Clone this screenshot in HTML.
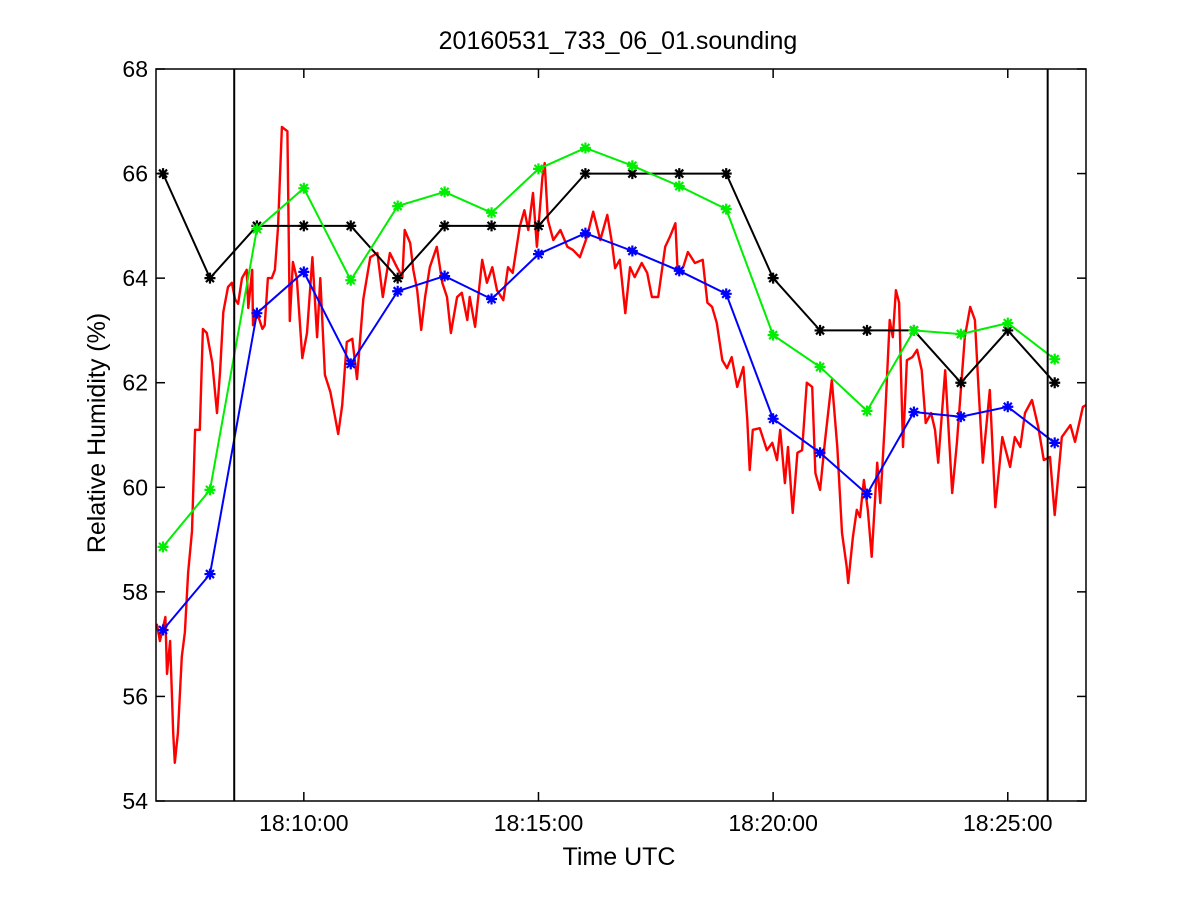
<!DOCTYPE html>
<html><head><meta charset="utf-8"><style>
body{margin:0;background:#fff;}
svg text{font-family:"Liberation Sans",Helvetica,sans-serif;fill:#000;}
</style></head><body>
<svg id="chart" width="1200" height="900" xmlns="http://www.w3.org/2000/svg">
<rect width="1200" height="900" fill="#fff"/>
<g id="plot"></g>
</svg>
<script>
// time in seconds after 18:07:00
const minuteTimes=[0,60,120,180,240,300,360,420,480,540,600,660,720,780,840,900,960,1020,1080,1140];
const blackValues=[66,64,65,65,65,64,65,65,65,66,66,66,66,64,63,63,63,62,63,62];
const greenValues=[58.86,59.95,64.94,65.72,63.96,65.38,65.65,65.25,66.09,66.49,66.15,65.76,65.32,62.91,62.3,61.46,63.0,62.93,63.14,62.45];
const blueValues=[57.27,58.34,63.33,64.12,62.36,63.75,64.04,63.6,64.46,64.86,64.52,64.14,63.7,61.31,60.66,59.87,61.44,61.35,61.54,60.85];
const redTimes=[-8,-4,3,5,9,13,15,19,24,28,32,37,41,47,51,56,63,69,73,77,83,88,92,96,101,107,109,114,115,120,127,130,134,139,143,147,152,159,162,166,171,178,184,191,197,201,207,214,220,224,229,235,242,248,256,265,274,281,290,299,306,309,316,320,325,330,335,341,350,357,363,368,376,382,389,392,399,408,414,421,427,435,441,447,456,462,467,473,478,485,488,492,499,508,517,524,533,542,550,559,568,574,578,584,591,597,603,612,619,625,633,642,648,655,658,665,671,680,690,696,702,708,715,721,727,734,742,747,750,754,763,772,779,785,789,795,799,805,811,817,823,830,834,840,846,855,862,868,874,876,882,887,891,896,901,906,913,917,923,929,933,937,941,946,951,958,964,970,975,982,987,991,1000,1009,1015,1025,1032,1038,1043,1048,1057,1064,1073,1083,1089,1096,1102,1111,1119,1126,1134,1140,1149,1160,1166,1176,1180];
const redValues=[57.39,57.06,57.52,56.43,57.06,55.30,54.73,55.30,56.76,57.23,58.36,59.16,61.10,61.10,63.03,62.95,62.38,61.42,62.22,63.35,63.83,63.91,63.60,63.51,64.00,64.16,63.43,64.16,63.10,63.35,63.03,63.10,64.00,64.00,64.16,64.96,66.89,66.81,63.18,64.31,64.00,62.47,62.95,64.40,62.87,64.00,62.15,61.82,61.34,61.02,61.57,62.78,62.84,62.07,63.60,64.40,64.48,63.64,64.48,64.21,64.02,64.92,64.67,64.16,63.77,63.01,63.64,64.21,64.60,63.91,63.64,62.95,63.64,63.72,63.20,63.64,63.07,64.35,63.91,64.21,63.77,63.58,64.21,64.10,64.98,65.30,64.92,65.63,64.60,65.93,66.20,65.11,64.73,64.92,64.60,64.54,64.40,64.79,65.27,64.73,65.21,64.67,64.19,64.35,63.33,64.21,64.02,64.29,64.10,63.64,63.64,64.60,64.79,65.05,64.10,64.21,64.50,64.29,64.35,63.53,63.45,63.14,62.43,62.28,62.49,61.92,62.30,61.29,60.33,61.10,61.13,60.71,60.85,60.52,61.10,60.08,60.77,59.51,60.66,60.71,62.00,61.92,60.27,59.95,60.85,62.05,60.77,59.13,58.48,58.17,59.05,59.57,59.43,60.14,59.57,58.67,60.47,59.70,61.29,63.20,62.87,63.77,63.53,60.77,62.43,62.49,62.63,62.24,61.23,61.42,61.10,60.47,62.24,59.89,60.85,62.87,63.45,63.20,61.80,60.47,61.86,59.62,60.96,60.39,60.96,60.77,61.42,61.67,61.15,60.52,60.58,59.47,60.96,61.19,60.87,61.54,61.57];
const yTicks=[54,56,58,60,62,64,66,68];
const xTickTimes=[180,480,780,1080];
const xTickLabels=["18:10:00","18:15:00","18:20:00","18:25:00"];
const markerTimes=[91,1131];

const L=156,R=1086,T=69,B=801;
const tMin=-9,tMax=1180,yMin=54,yMax=68;
const xs=t=>L+(t-tMin)/(tMax-tMin)*(R-L);
const ys=v=>B-(v-yMin)/(yMax-yMin)*(B-T);
const NS="http://www.w3.org/2000/svg";
const g=document.getElementById('plot');
function mk(tag,attrs,parent){const e=document.createElementNS(NS,tag);for(const k in attrs)e.setAttribute(k,attrs[k]);(parent||g).appendChild(e);return e;}

let d=redTimes.map((t,i)=>(i?'L':'M')+xs(t).toFixed(1)+','+ys(redValues[i]).toFixed(1)).join('');
const red=mk('path',{d:d,fill:'none',stroke:'#ff0000','stroke-width':2.4,'stroke-linejoin':'round'});



function series(vals,color,name){
  const sg=mk('g',{});
  
  
  const pd=minuteTimes.map((t,i)=>(i?'L':'M')+xs(t).toFixed(1)+','+ys(vals[i]).toFixed(1)).join('');
  mk('path',{d:pd,fill:'none',stroke:color,'stroke-width':2},sg);
  minuteTimes.forEach((t,i)=>{
    const x=xs(t),y=ys(vals[i]),r=5.5;
    const m=mk('path',{d:`M${x-r},${y}L${x+r},${y}M${x},${y-r}L${x},${y+r}M${x-4},${y-4}L${x+4},${y+4}M${x-4},${y+4}L${x+4},${y-4}`,stroke:color,'stroke-width':2.2},sg);
    
    
  });
}
series(blackValues,'#000000','black-series');
series(greenValues,'#00ee00','green-series');
series(blueValues,'#0000ff','blue-series');

markerTimes.forEach(t=>{
  const v=mk('line',{x1:xs(t),x2:xs(t),y1:T,y2:B,stroke:'#000','stroke-width':2});
  
  
});

const box=mk('rect',{x:L,y:T,width:R-L,height:B-T,fill:'none',stroke:'#000','stroke-width':1.5});



yTicks.forEach(v=>{
  const y=ys(v);
  mk('line',{x1:L,x2:L+9,y1:y,y2:y,stroke:'#000','stroke-width':1.5});
  mk('line',{x1:R-9,x2:R,y1:y,y2:y,stroke:'#000','stroke-width':1.5});
  const tx=mk('text',{x:L-8,y:y+8,'text-anchor':'end','font-size':23});
  tx.textContent=v;
  
  
});
xTickTimes.forEach((t,i)=>{
  const x=xs(t);
  mk('line',{x1:x,x2:x,y1:B,y2:B-9,stroke:'#000','stroke-width':1.5});
  mk('line',{x1:x,x2:x,y1:T,y2:T+9,stroke:'#000','stroke-width':1.5});
  const tx=mk('text',{x:x,y:831,'text-anchor':'middle','font-size':23});
  tx.textContent=xTickLabels[i];
  
  
});

const title=mk('text',{x:618,y:49,'text-anchor':'middle','font-size':25});
title.textContent='20160531_733_06_01.sounding';


const xl=mk('text',{x:619,y:865,'text-anchor':'middle','font-size':25});
xl.textContent='Time UTC';


const yl=mk('text',{x:0,y:0,'text-anchor':'middle','font-size':25,transform:'translate(105,433) rotate(-90)'});
yl.textContent='Relative Humidity (%)';


</script>
</body></html>
